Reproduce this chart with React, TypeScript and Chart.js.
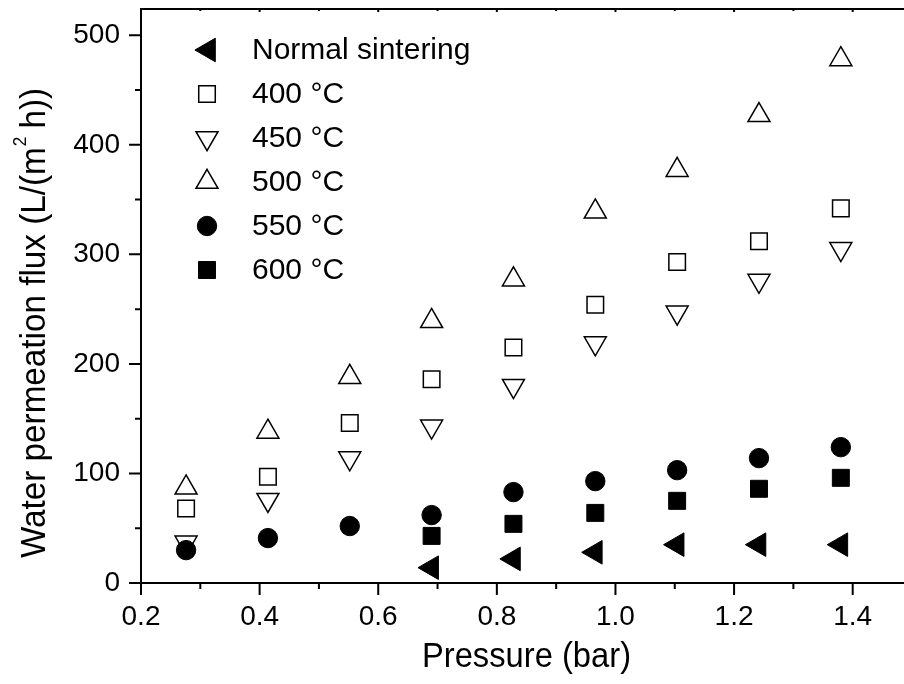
import React, { useEffect, useRef } from 'react';
import { Chart, registerables } from 'chart.js';

Chart.register(...registerables);

// ---------- data ----------
const pressure = [0.276, 0.414, 0.552, 0.69, 0.828, 0.966, 1.104, 1.242, 1.38];
const pressureHigh = [0.69, 0.828, 0.966, 1.104, 1.242, 1.38];
const normalSintering = [14, 22, 28, 35, 35, 35];
const flux400 = [68, 97, 146, 186, 215, 254, 293, 312, 342];
const flux450 = [37, 76, 114, 143, 180, 219, 247, 276, 305];
const flux500 = [87, 138, 188, 239, 277, 339, 377, 427, 478];
const flux550 = [30, 41, 52, 62, 83, 93, 103, 114, 124];
const flux600 = [43, 54, 64, 75, 86, 96];
const seriesLabels = ['Normal sintering', '400 °C', '450 °C', '500 °C', '550 °C', '600 °C'];
const xTicks = [0.2, 0.4, 0.6, 0.8, 1.0, 1.2, 1.4];
const xMinorTicks = [0.3, 0.5, 0.7, 0.9, 1.1, 1.3];
const yTicks = [0, 100, 200, 300, 400, 500];
const yMinorTicks = [50, 150, 250, 350, 450];
const xTitle = 'Pressure (bar)';
const yTitleMain = 'Water permeation flux (L/(m';
const yTitleSup = '2';
const yTitleEnd = ' h))';

const FONT = "'Liberation Sans', Arial, Helvetica, sans-serif";

type Marker = { style: string; rotation: number; radius: number; fill: string; width: number };
const markers: Marker[] = [
  { style: 'triangle', rotation: -90, radius: 13.6, fill: '#000', width: 1 },
  { style: 'rect', rotation: 0, radius: 11.7, fill: '#fff', width: 1.5 },
  { style: 'triangle', rotation: 180, radius: 12.7, fill: '#fff', width: 1.5 },
  { style: 'triangle', rotation: 0, radius: 12.7, fill: '#fff', width: 1.5 },
  { style: 'circle', rotation: 0, radius: 9.7, fill: '#000', width: 1 },
  { style: 'rect', rotation: 0, radius: 12, fill: '#000', width: 1 },
];

const pts = (xs: number[], ys: number[]) => xs.map((x, i) => ({ x, y: ys[i] }));
const seriesData = [
  pts(pressureHigh, normalSintering),
  pts(pressure, flux400),
  pts(pressure, flux450),
  pts(pressure, flux500),
  pts(pressure, flux550),
  pts(pressureHigh, flux600),
];

function drawMarker(ctx: CanvasRenderingContext2D, m: Marker, x: number, y: number) {
  ctx.save();
  ctx.beginPath();
  const r = m.radius;
  if (m.style === 'circle') {
    ctx.arc(x, y, r, 0, Math.PI * 2);
  } else if (m.style === 'rect') {
    const s = Math.SQRT1_2 * r;
    ctx.rect(x - s, y - s, 2 * s, 2 * s);
  } else {
    let rad = (m.rotation * Math.PI) / 180;
    ctx.moveTo(x + Math.sin(rad) * r, y - Math.cos(rad) * r);
    rad += (2 * Math.PI) / 3;
    ctx.lineTo(x + Math.sin(rad) * r, y - Math.cos(rad) * r);
    rad += (2 * Math.PI) / 3;
    ctx.lineTo(x + Math.sin(rad) * r, y - Math.cos(rad) * r);
    ctx.closePath();
  }
  ctx.fillStyle = m.fill;
  ctx.fill();
  ctx.lineWidth = m.width;
  ctx.strokeStyle = '#000';
  ctx.stroke();
  ctx.restore();
}

const zeroPad = (s: any) => {
  s.paddingTop = 0;
  s.paddingBottom = 0;
  s.paddingLeft = 0;
  s.paddingRight = 0;
};

const framePlugin = {
  id: 'originFrame',
  afterDraw(chart: any) {
    const ctx: CanvasRenderingContext2D = chart.ctx;
    const { left, right, top, bottom } = chart.chartArea;
    const xs = chart.scales.x;
    const ys = chart.scales.y;
    ctx.save();
    ctx.strokeStyle = '#000';
    ctx.lineWidth = 2;
    ctx.lineCap = 'butt';
    // frame
    ctx.beginPath();
    ctx.moveTo(left, top);
    ctx.lineTo(right, top);
    ctx.lineTo(right, bottom);
    ctx.lineTo(left - 1, bottom);
    ctx.moveTo(left, top - 1);
    ctx.lineTo(left, bottom + 1);
    ctx.stroke();
    // ticks
    ctx.beginPath();
    xTicks.forEach((v) => {
      const p = xs.getPixelForValue(v);
      ctx.moveTo(p, bottom);
      ctx.lineTo(p, bottom + 12);
      ctx.moveTo(p, top);
      ctx.lineTo(p, top + 3);
    });
    xMinorTicks.forEach((v) => {
      const p = xs.getPixelForValue(v);
      ctx.moveTo(p, bottom);
      ctx.lineTo(p, bottom + 6);
      ctx.moveTo(p, top);
      ctx.lineTo(p, top + 2);
    });
    yTicks.forEach((v) => {
      const p = ys.getPixelForValue(v);
      ctx.moveTo(left, p);
      ctx.lineTo(left - 12, p);
    });
    yMinorTicks.forEach((v) => {
      const p = ys.getPixelForValue(v);
      ctx.moveTo(left, p);
      ctx.lineTo(left - 6, p);
    });
    ctx.stroke();

    // x title
    ctx.fillStyle = '#000';
    ctx.save();
    ctx.translate((left + right) / 2, 666.5);
    ctx.scale(0.935, 1);
    ctx.font = `35px ${FONT}`;
    ctx.textAlign = 'center';
    ctx.textBaseline = 'alphabetic';
    ctx.fillText(xTitle, 0, 0);
    ctx.restore();

    // y title
    ctx.save();
    ctx.translate(44.5, 323);
    ctx.rotate(-Math.PI / 2);
    ctx.scale(0.95, 1);
    ctx.textBaseline = 'alphabetic';
    ctx.textAlign = 'left';
    ctx.font = `35px ${FONT}`;
    const w1 = ctx.measureText(yTitleMain).width;
    const w3 = ctx.measureText(yTitleEnd).width;
    ctx.font = `18px ${FONT}`;
    const w2 = ctx.measureText(yTitleSup).width;
    const total = w1 + w2 + w3;
    let x0 = -total / 2;
    ctx.font = `35px ${FONT}`;
    ctx.fillText(yTitleMain, x0, 0);
    x0 += w1;
    ctx.font = `18px ${FONT}`;
    ctx.fillText(yTitleSup, x0 + 1, -19);
    x0 += w2;
    ctx.font = `35px ${FONT}`;
    ctx.fillText(yTitleEnd, x0, 0);
    ctx.restore();

    // legend
    ctx.font = `30px ${FONT}`;
    ctx.textAlign = 'left';
    ctx.textBaseline = 'middle';
    chart.data.datasets.forEach((ds: any, i: number) => {
      const cy = 50 + i * 44;
      const mx = markers[i].style === 'triangle' && markers[i].rotation === -90 ? 208.5 : 207;
      drawMarker(ctx, markers[i], mx, cy);
      ctx.fillStyle = '#000';
      ctx.fillText(ds.label, 252, cy + 1);
    });
    ctx.restore();
  },
};

export default function App() {
  const ref = useRef<HTMLCanvasElement>(null);
  useEffect(() => {
    const datasets = seriesData.map((data, i) => ({
      label: seriesLabels[i],
      data,
      order: i === 4 ? 0 : 1,
      showLine: false,
      pointStyle: markers[i].style,
      pointRotation: markers[i].rotation,
      pointRadius: markers[i].radius,
      pointHoverRadius: markers[i].radius,
      pointBackgroundColor: markers[i].fill,
      pointBorderColor: '#000',
      pointBorderWidth: markers[i].width,
      backgroundColor: markers[i].fill,
      borderColor: '#000',
    }));
    const chart = new Chart(ref.current as HTMLCanvasElement, {
      type: 'scatter',
      data: { datasets } as any,
      options: {
        responsive: false,
        devicePixelRatio: 1,
        animation: false,
        events: [],
        layout: { autoPadding: false, padding: { left: 0, top: 9, right: 28, bottom: 0 } },
        plugins: { legend: { display: false }, tooltip: { enabled: false }, title: { display: false } },
        scales: {
          x: {
            type: 'linear',
            min: 0.2,
            max: 1.5,
            afterFit: (s: any) => {
              s.height = 101;
              zeroPad(s);
            },
            afterBuildTicks: (s: any) => {
              s.ticks = xTicks.map((v) => ({ value: v }));
            },
            grid: { display: false, drawTicks: false },
            border: { display: false },
            ticks: {
              autoSkip: false,
              maxRotation: 0,
              padding: 17,
              color: '#000',
              font: { family: FONT, size: 28 },
              callback: (v: any) => Number(v).toFixed(1),
            },
          },
          y: {
            type: 'linear',
            min: 0,
            max: 524,
            afterFit: (s: any) => {
              s.width = 141;
              zeroPad(s);
            },
            afterBuildTicks: (s: any) => {
              s.ticks = yTicks.map((v) => ({ value: v }));
            },
            grid: { display: false, drawTicks: false },
            border: { display: false },
            ticks: {
              autoSkip: false,
              padding: 21,
              color: '#000',
              font: { family: FONT, size: 28 },
              callback: (v: any) => String(v),
            },
          },
        },
      } as any,
      plugins: [framePlugin],
    });
    return () => chart.destroy();
  }, []);
  return (
    <div
      style={{
        position: 'fixed',
        left: 0,
        top: 0,
        width: 904,
        height: 684,
        overflow: 'hidden',
        background: '#fff',
      }}
    >
      <canvas ref={ref} width={940} height={684} style={{ display: 'block', width: 940, height: 684 }} />
    </div>
  );
}
